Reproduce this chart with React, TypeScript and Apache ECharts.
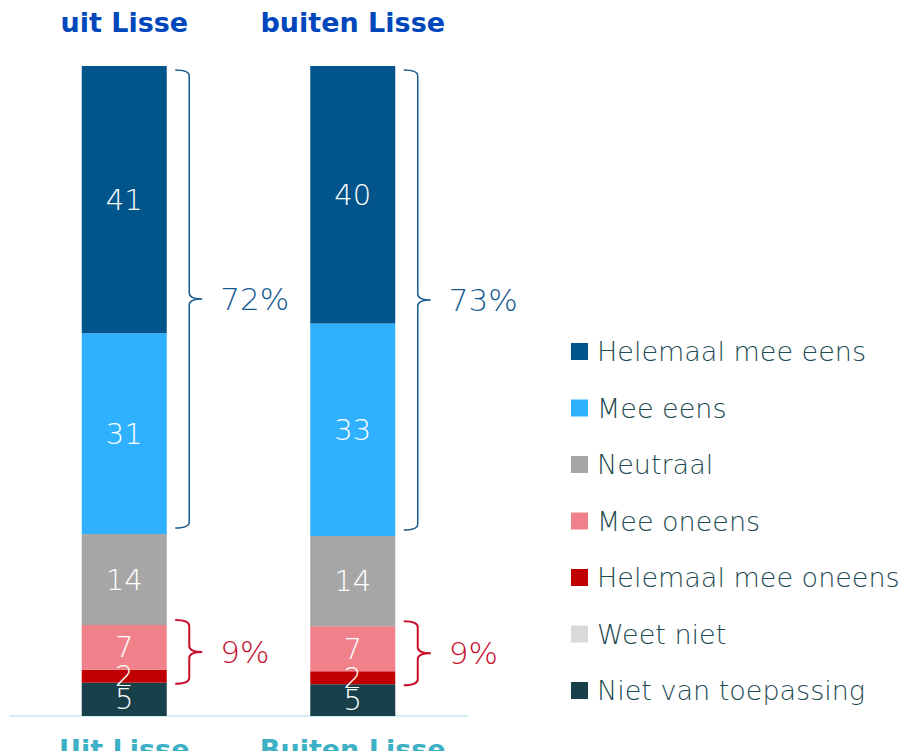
import React, { useEffect, useRef } from "react";
import * as echarts from "echarts";

// Categories (bottom axis) and headings (top axis)
const categories = ["Uit Lisse", "Buiten Lisse"];
const headings = ["uit Lisse", "buiten Lisse"];

// Series values (percent)
const helemaalMeeEens = [41.1, 39.6];
const meeEens = [30.9, 32.7];
const neutraal = [14.0, 13.9];
const meeOneens = [6.9, 6.9];
const helemaalMeeOneens = [2.0, 2.0];
const weetNiet = [0, 0];
const nietVanToepassing = [5.1, 4.9];

const legendOrder = [
  "Helemaal mee eens",
  "Mee eens",
  "Neutraal",
  "Mee oneens",
  "Helemaal mee oneens",
  "Weet niet",
  "Niet van toepassing",
];

const colors: Record<string, string> = {
  "Helemaal mee eens": "#02558b",
  "Mee eens": "#30b1ff",
  Neutraal: "#a6a6a6",
  "Mee oneens": "#f0808a",
  "Helemaal mee oneens": "#c00000",
  "Weet niet": "#d9d9d9",
  "Niet van toepassing": "#17404a",
};

// stacking order bottom -> top
const stackSeries: [string, number[]][] = [
  ["Niet van toepassing", nietVanToepassing],
  ["Weet niet", weetNiet],
  ["Helemaal mee oneens", helemaalMeeOneens],
  ["Mee oneens", meeOneens],
  ["Neutraal", neutraal],
  ["Mee eens", meeEens],
  ["Helemaal mee eens", helemaalMeeEens],
];

export default function App() {
  const ref = useRef<HTMLDivElement>(null);

  useEffect(() => {
    if (!ref.current) return;
    const chart = echarts.init(ref.current, undefined, { renderer: "svg" });

    // Brace data derived from series values
    const braceData: any[] = [];
    const braceKinds: string[] = [];
    const braceTexts: string[] = [];
    for (let i = 0; i < categories.length; i++) {
      const base = nietVanToepassing[i] + weetNiet[i];
      const negTop = base + helemaalMeeOneens[i] + meeOneens[i];
      const posBase = negTop + neutraal[i];
      const posTop = posBase + meeEens[i] + helemaalMeeEens[i];
      braceData.push([i, posBase, posTop]);
      braceKinds.push("pos");
      braceTexts.push(
        Math.round(meeEens[i]) + Math.round(helemaalMeeEens[i]) + "%"
      );
      braceData.push([i, base, negTop]);
      braceKinds.push("neg");
      braceTexts.push(
        Math.round(helemaalMeeOneens[i]) + Math.round(meeOneens[i]) + "%"
      );
    }

    const barSeries = stackSeries.map(([name, values]) => ({
      name,
      type: "bar",
      stack: "total",
      barWidth: 85,
      data: values,
      itemStyle: { color: colors[name] },
      label: {
        show: true,
        position: "inside",
        color: "#ffffff",
        fontSize: 29,
        fontFamily: "DejaVu Sans",
        fontWeight: 200,
        formatter: (p: any) => (p.value > 0 ? String(Math.round(p.value)) : ""),
      },
    }));

    const braceSeries = {
      type: "custom",
      name: "braces",
      silent: true,
      z: 10,
      clip: false,
      data: braceData,
      encode: { x: 0, y: [1, 2] },
      renderItem: (params: any, api: any) => {
        const cat = api.value(0);
        const pLow = api.coord([cat, api.value(1)]);
        const pHigh = api.coord([cat, api.value(2)]);
        const kind = braceKinds[params.dataIndex];
        const color = kind === "pos" ? "#155a90" : "#c8102e";
        const cx = pLow[0];
        const top = kind === "pos" ? pHigh[1] + 4 : pHigh[1] - 5;
        const bot = kind === "pos" ? pLow[1] - 6 : pLow[1] + 1;
        const mid = (top + bot) / 2;
        const x0 = cx + 51;
        const xv = cx + 65;
        const xTip = cx + 78;
        const r = 6;
        const d =
          `M${x0},${top} Q${xv},${top} ${xv},${top + r} ` +
          `L${xv},${mid - r} Q${xv},${mid} ${xTip},${mid} ` +
          `Q${xv},${mid} ${xv},${mid + r} ` +
          `L${xv},${bot - r} Q${xv},${bot} ${x0},${bot}`;
        return {
          type: "group",
          children: [
            {
              type: "path",
              shape: { pathData: d },
              style: { stroke: color, lineWidth: kind === "pos" ? 1.5 : 2, fill: null },
            },
            {
              type: "text",
              style: {
                text: braceTexts[params.dataIndex],
                x: cx + 96,
                y: mid,
                fill: color,
                fontSize: 31,
                fontFamily: "DejaVu Sans",
                fontWeight: 200,
                align: "left",
                verticalAlign: "middle",
              },
            },
          ],
        };
      },
    };

    chart.setOption({
      animation: false,
      backgroundColor: "#ffffff",
      grid: {
        left: 10,
        right: 435,
        top: 66,
        bottom: 35,
        containLabel: false,
        outerBoundsMode: "none",
      },
      legend: {
        data: legendOrder,
        orient: "vertical",
        left: 571,
        top: 336.5,
        padding: 0,
        icon: "rect",
        itemWidth: 17,
        itemHeight: 17,
        itemGap: 26.5,
        selectedMode: false,
        textStyle: {
          color: "#1d4b52",
          fontSize: 27,
          fontFamily: "DejaVu Sans",
          fontWeight: 200,
          lineHeight: 30,
          padding: [0, 0, 0, 4],
        },
      },
      xAxis: [
        {
          type: "category",
          data: categories,
          position: "bottom",
          axisLine: { show: true, lineStyle: { color: "#d2ecf2", width: 2 } },
          axisTick: { show: false },
          axisLabel: {
            interval: 0,
            hideOverlap: false,
            color: "#3cb0c4",
            fontSize: 27,
            fontWeight: "bold",
            fontFamily: "DejaVu Sans",
            margin: 20,
          },
        },
        {
          type: "category",
          data: headings,
          position: "top",
          axisLine: { show: false },
          axisTick: { show: false },
          axisLabel: {
            interval: 0,
            hideOverlap: false,
            color: "#0047bb",
            fontSize: 27,
            fontWeight: "bold",
            fontFamily: "DejaVu Sans",
            margin: 30,
            lineHeight: 27,
          },
        },
      ],
      yAxis: { type: "value", min: 0, max: 100, show: false },
      series: [...barSeries, braceSeries],
    });

    return () => chart.dispose();
  }, []);

  return (
    <div
      ref={ref}
      style={{ position: "absolute", left: 0, top: 0, width: 902, height: 751 }}
    />
  );
}
